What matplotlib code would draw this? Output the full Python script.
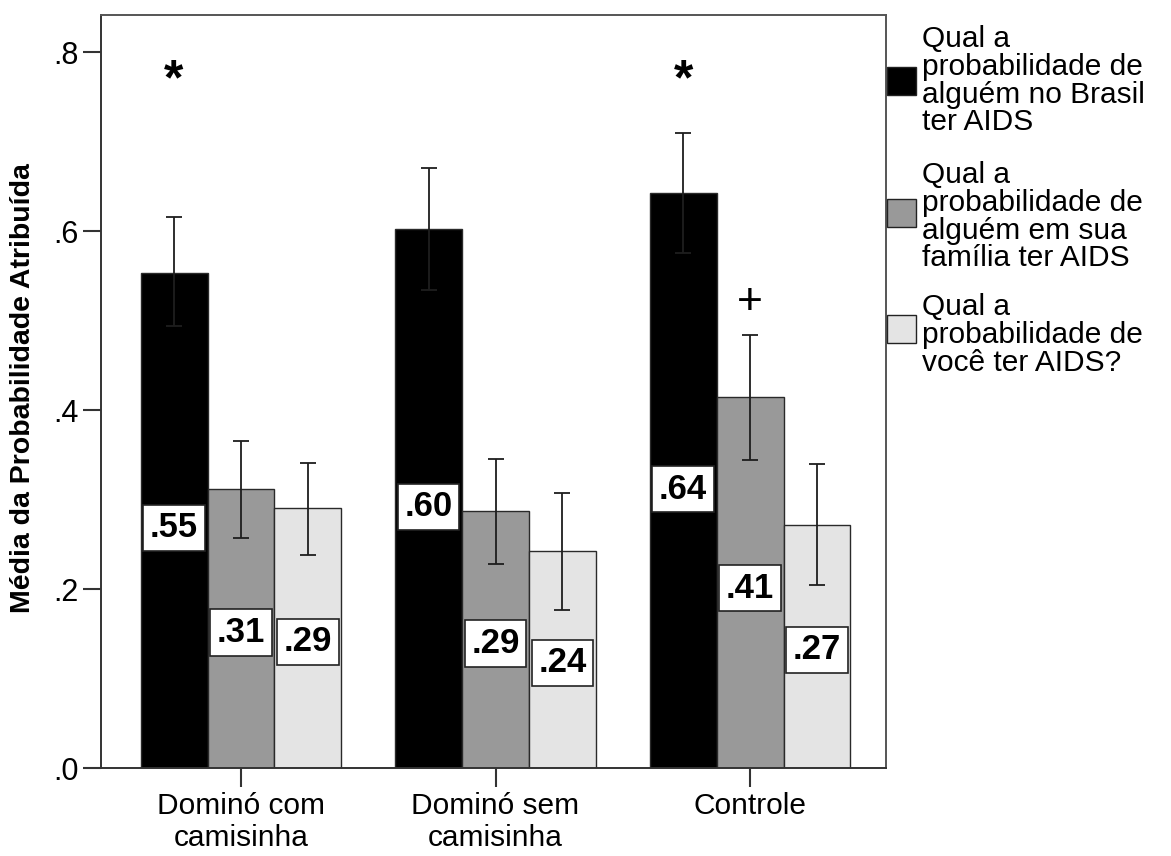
import matplotlib
matplotlib.use("Agg")
import matplotlib.pyplot as plt
from matplotlib.patches import Rectangle
import numpy as np

# ---------------- data ----------------
categories = ["Dominó com\ncamisinha", "Dominó sem\ncamisinha", "Controle"]
series_names = [
    "Qual a\nprobabilidade de\nalguém no Brasil\nter AIDS",
    "Qual a\nprobabilidade de\nalguém em sua\nfamília ter AIDS",
    "Qual a\nprobabilidade de\nvocê ter AIDS?",
]
brasil = [0.553, 0.602, 0.642]
familia = [0.312, 0.287, 0.414]
voce = [0.291, 0.242, 0.272]
brasil_ci_low = [0.494, 0.534, 0.575]
brasil_ci_high = [0.616, 0.670, 0.709]
familia_ci_low = [0.257, 0.228, 0.344]
familia_ci_high = [0.365, 0.345, 0.484]
voce_ci_low = [0.238, 0.176, 0.205]
voce_ci_high = [0.341, 0.307, 0.340]
ytick_values = [0.0, 0.2, 0.4, 0.6, 0.8]
ytick_labels = [".0", ".2", ".4", ".6", ".8"]
# significance markers: (group index, series index, symbol, y)
markers = [(0, 0, "*", 0.767), (2, 0, "*", 0.767), (2, 1, "+", 0.520)]

colors = ["#000000", "#999999", "#e4e4e4"]

# ---------------- figure ----------------
W, H = 1171, 856
fig = plt.figure(figsize=(W / 100, H / 100), dpi=100)
plt.rcParams["font.family"] = ["Liberation Sans", "DejaVu Sans"]

ax = fig.add_axes([101 / W, 1 - 768 / H, (886 - 101) / W, (768 - 14.7) / H])

means = [brasil, familia, voce]
lows = [brasil_ci_low, familia_ci_low, voce_ci_low]
highs = [brasil_ci_high, familia_ci_high, voce_ci_high]

x = np.arange(len(categories))
w = 0.263
offsets = [-w, 0, w]
for s in range(3):
    m = np.array(means[s])
    lo = np.array(lows[s])
    hi = np.array(highs[s])
    xs = x + offsets[s]
    ax.bar(xs, m, width=w, color=colors[s], edgecolor="#2a2a2a", linewidth=1.0, zorder=2)
    ax.errorbar(xs, m, yerr=[m - lo, hi - m], fmt="none", ecolor="#1e1e1e",
                elinewidth=1.3, capsize=6, capthick=1.3, zorder=3)
    for xi, v in zip(xs, m):
        lab = f"{v:.2f}".lstrip("0")
        ax.text(xi, v * 0.485, lab, ha="center", va="center", fontsize=25,
                fontweight="bold", color="black", zorder=4,
                bbox=dict(boxstyle="square,pad=0.19", facecolor="white",
                          edgecolor="#222222", linewidth=1.2))

for g, s, sym, yv in markers:
    if sym == "*":
        ax.text(x[g] + offsets[s], yv, sym, ha="center", va="center",
                fontsize=36, fontweight="bold", zorder=5)
    else:
        ax.text(x[g] + offsets[s], yv, sym, ha="center", va="center",
                fontsize=32, zorder=5)

ax.set_xlim(-0.550, 2.534)
ax.set_ylim(0, 0.8417)
ax.set_yticks(ytick_values)
ax.set_yticklabels(ytick_labels, fontsize=22)
ax.set_xticks(x)
ax.set_xticklabels(categories, fontsize=21.5)
for t in ax.get_xticklabels():
    t.set_linespacing(1.2)
ax.tick_params(axis="y", direction="out", length=13, width=1.5, color="#333333", pad=3)
ax.tick_params(axis="x", direction="out", length=14, width=1.5, color="#333333", pad=3)
for side, sp in ax.spines.items():
    sp.set_color("#555555")
    sp.set_linewidth(1.4)
ax.spines["bottom"].set_color("#333333")
ax.spines["left"].set_color("#333333")

fig.text(23 / W, 1 - 388 / H, "Média da Probabilidade Atribuída", rotation=90,
         ha="center", va="center", fontsize=20.5, fontweight="bold")

# ---------------- legend (manual) ----------------
patch_tops = [67, 199, 315]
text_tops = [25, 161, 293]
for s in range(3):
    fig.patches.append(Rectangle((887 / W, 1 - (patch_tops[s] + 28) / H), 29 / W, 28 / H,
                                 transform=fig.transFigure, facecolor=colors[s],
                                 edgecolor="#222222", linewidth=1.0))
    fig.text(922 / W, 1 - text_tops[s] / H, series_names[s], ha="left",
             va="top", fontsize=21.5, linespacing=0.99)

fig.savefig("out.png", dpi=100, facecolor="white")
